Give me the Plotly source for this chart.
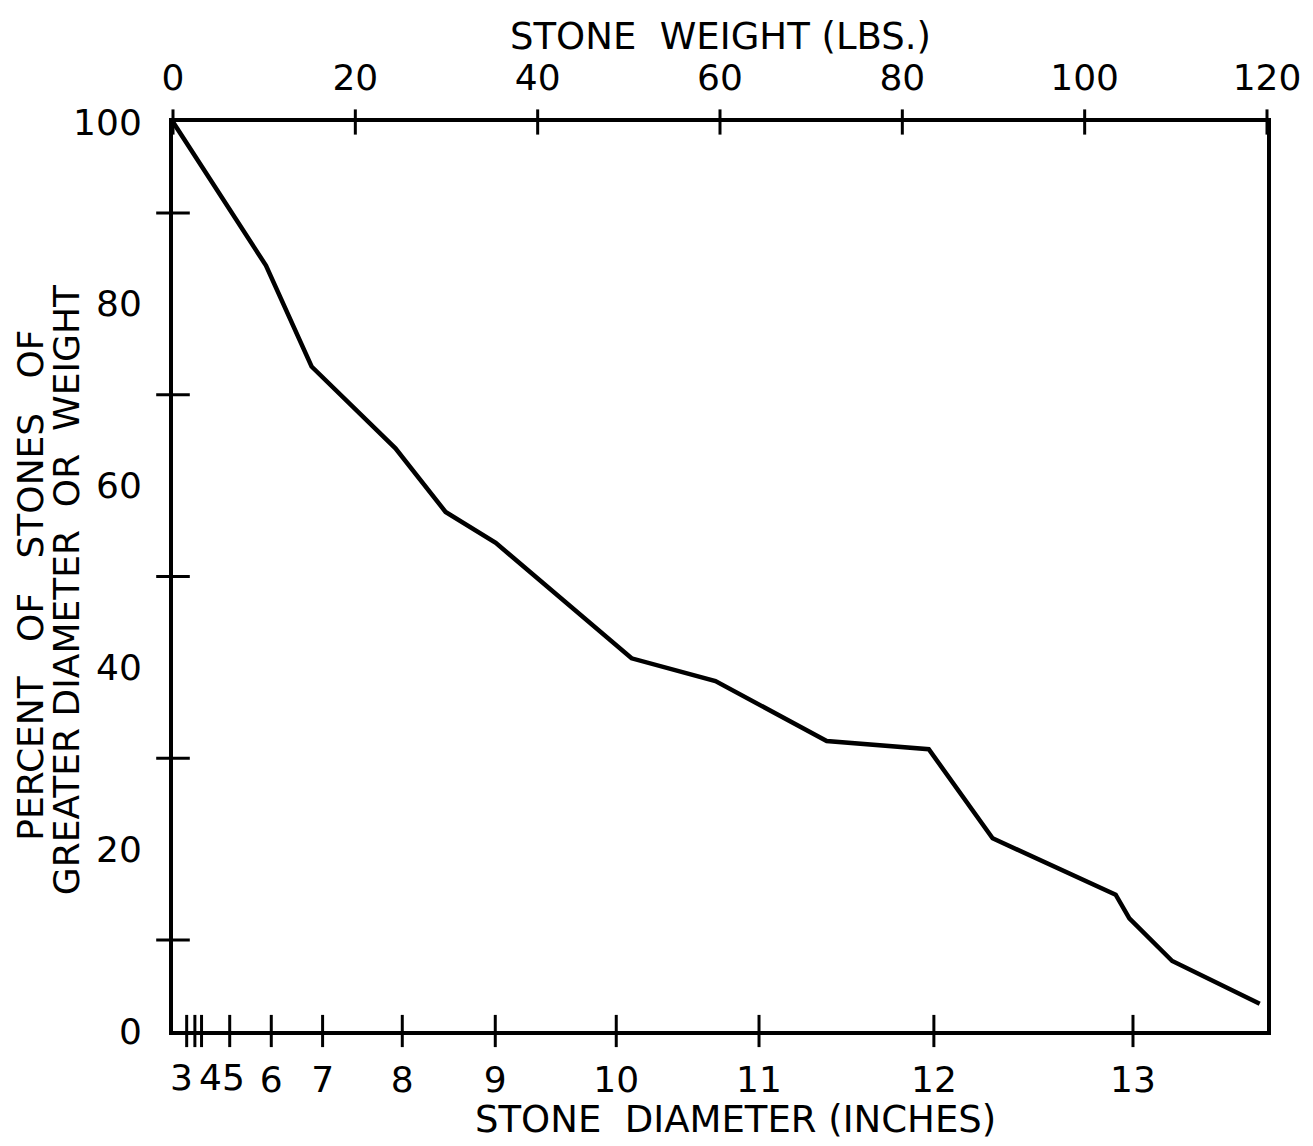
import plotly.graph_objects as go

# ---- data ----
weight_lbs = [0, 10.2, 15.2, 24.4, 29.9, 35.4, 50.3, 59.5, 71.7, 82.9, 89.9, 103.4, 104.9, 109.6, 119.2]
percent_greater = [100, 84.2, 73.1, 64.1, 57.1, 53.7, 41.0, 38.5, 31.9, 31.0, 21.2, 15.0, 12.4, 7.7, 3.0]

# top axis: stone weight (lbs)
weight_ticks = [0, 20, 40, 60, 80, 100, 120]
# bottom axis: stone diameter (inches) and the weight at which each diameter sits
diameter_labels = ["3", "", "4", "5", "6", "7", "8", "9", "10", "11", "12", "13"]
diameter_tick_weight = [1.5, 2.4, 3.13, 6.22, 10.78, 16.41, 25.15, 35.35, 48.62, 64.28, 83.46, 105.3]
# y axis
percent_labels = [0, 20, 40, 60, 80, 100]
percent_minor_ticks = [10, 30, 50, 70, 90]

FONT = "DejaVu Sans"
INK = "black"

fig = go.Figure()

# main curve
fig.add_trace(go.Scatter(
    x=weight_lbs, y=percent_greater, mode="lines",
    line=dict(color=INK, width=4.5), showlegend=False, hoverinfo="skip"))

# crossing tick marks on bottom axis (diameter)
fig.add_trace(go.Scatter(
    x=diameter_tick_weight, y=[0] * len(diameter_tick_weight), mode="markers",
    marker=dict(symbol="line-ns", size=23, line=dict(color=INK, width=3)),
    cliponaxis=False, showlegend=False, hoverinfo="skip"))

# crossing tick marks on top axis (weight)
fig.add_trace(go.Scatter(
    x=weight_ticks, y=[100] * len(weight_ticks), mode="markers",
    xaxis="x2", yaxis="y",
    marker=dict(symbol="line-ns", size=18, line=dict(color=INK, width=3)),
    cliponaxis=False, showlegend=False, hoverinfo="skip"))

# crossing tick marks on left axis
fig.add_trace(go.Scatter(
    x=[0] * len(percent_minor_ticks), y=percent_minor_ticks, mode="markers",
    marker=dict(symbol="line-ew", size=24, line=dict(color=INK, width=3)),
    cliponaxis=False, showlegend=False, hoverinfo="skip"))

tick_font = dict(family=FONT, size=36, color=INK)
clear = "rgba(0,0,0,0)"

# bottom tick labels: crowded small diameters are placed as nudged annotations
nudges = {"3": -5, "4": 9, "5": 4}
axis_text = ["" if t in nudges else t for t in diameter_labels]

fig.update_layout(
    width=1313, height=1146,
    margin=dict(l=165, r=54, t=114, b=123),
    paper_bgcolor="white", plot_bgcolor="white",
    showlegend=False,
    xaxis=dict(
        range=[0, 120], showgrid=False, zeroline=False, automargin=False,
        showline=True, linecolor=INK, linewidth=4,
        tickmode="array", tickvals=diameter_tick_weight, ticktext=axis_text,
        ticks="outside", ticklen=14, tickcolor=clear, tickfont=tick_font,
    ),
    xaxis2=dict(
        range=[0, 120], overlaying="x", side="top", showgrid=False, zeroline=False,
        automargin=False,
        showline=True, linecolor=INK, linewidth=4,
        tickmode="array", tickvals=weight_ticks, ticktext=[str(v) for v in weight_ticks],
        ticks="outside", ticklen=14, tickcolor=clear, tickfont=tick_font,
    ),
    yaxis=dict(
        range=[0, 100], showgrid=False, zeroline=False, automargin=False,
        showline=True, linecolor=INK, linewidth=4, mirror=True,
        tickmode="array", tickvals=percent_labels, ticktext=[str(v) for v in percent_labels],
        ticks="outside", ticklen=20, tickcolor=clear, tickfont=tick_font,
    ),
)

annotations = []
for lbl, w in zip(diameter_labels, diameter_tick_weight):
    if lbl in nudges:
        annotations.append(dict(
            x=w, y=0, xref="x", yref="paper", text=lbl, showarrow=False,
            xanchor="center", yanchor="top", xshift=nudges[lbl], yshift=-24,
            font=tick_font))

title_font = dict(family=FONT, size=37, color=INK)
side_font = dict(family=FONT, size=36, color=INK)
annotations += [
    dict(x=0.5005, y=1.094, xref="paper", yref="paper", text="STONE  WEIGHT (LBS.)",
         showarrow=False, xanchor="center", yanchor="middle", font=title_font),
    dict(x=0.514, y=-0.097, xref="paper", yref="paper", text="STONE  DIAMETER (INCHES)",
         showarrow=False, xanchor="center", yanchor="middle", font=title_font),
    dict(x=-0.1306, y=0.49, xref="paper", yref="paper", text="PERCENT   OF   STONES   OF",
         showarrow=False, xanchor="center", yanchor="middle", textangle=-90, font=side_font),
    dict(x=-0.0977, y=0.485, xref="paper", yref="paper", text="GREATER DIAMETER  OR  WEIGHT",
         showarrow=False, xanchor="center", yanchor="middle", textangle=-90, font=side_font),
]
fig.update_layout(annotations=annotations)

fig.write_html("out.html")
